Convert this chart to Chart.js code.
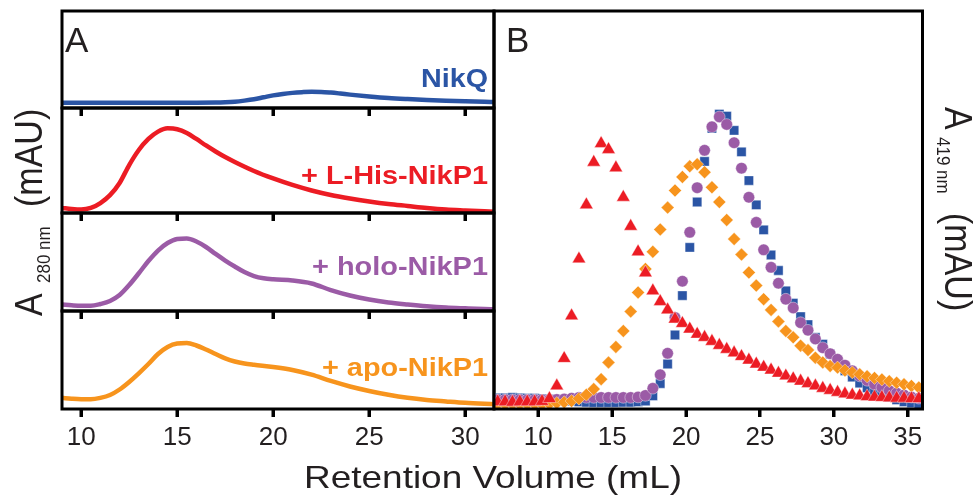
<!DOCTYPE html>
<html>
<head>
<meta charset="utf-8">
<script src="https://cdn.jsdelivr.net/npm/chart.js@4"></script>
<style>
  html, body { margin: 0; padding: 0; background: #fff; }
  #figure { position: relative; width: 977px; height: 497px; background: #fff; }
  #figure canvas { position: absolute; left: 0; top: 0; }
</style>
</head>
<body>
<div id="figure">
  <canvas id="traceNikQ" width="977" height="497"></canvas>
  <canvas id="traceLHis" width="977" height="497"></canvas>
  <canvas id="traceHolo" width="977" height="497"></canvas>
  <canvas id="traceApo" width="977" height="497"></canvas>
  <canvas id="fractions" width="977" height="497"></canvas>
</div>
<script>
// Panel A: A280 traces (retention volume in mL, absorbance in arbitrary mAU)
const volNikQ = [9, 10, 11, 12, 13, 14, 15, 16, 17, 17.5, 18, 18.5, 19, 19.5, 20, 20.5, 21, 21.5, 22, 22.5, 23, 23.5, 24, 25, 26, 27, 28, 29, 30, 31, 31.5];
const a280NikQ = [5.5, 5.5, 5.5, 5.5, 5.5, 5.5, 5.5, 5.5, 5.6, 5.9, 6.5, 7.6, 9.0, 11.0, 13.0, 14.5, 15.6, 16.3, 16.7, 16.6, 15.9, 14.9, 13.8, 11.9, 10.3, 9.2, 8.3, 7.5, 6.9, 6.4, 6.2];

const volLHis = [9, 9.5, 10, 10.5, 11, 11.5, 12, 12.5, 13, 13.5, 14, 14.5, 15, 15.5, 16, 16.5, 17, 17.5, 18, 19, 20, 21, 22, 23, 24, 25, 26, 27, 28, 29, 30, 31, 31.5];
const a280LHis = [4.8, 3.8, 3.3, 4.8, 9.5, 17.0, 28.6, 45.7, 60.0, 70.5, 77.5, 80.6, 79.8, 76.2, 70.5, 64.3, 58.6, 53.3, 48.6, 40.0, 32.9, 26.7, 21.4, 17.1, 13.8, 11.0, 8.6, 6.7, 4.8, 3.3, 2.4, 1.6, 1.2];

const volHolo = [9, 9.5, 10, 10.5, 11, 11.5, 12, 12.5, 13, 13.5, 14, 14.5, 15, 15.5, 16, 16.5, 17, 17.5, 18, 18.5, 19, 19.5, 20, 21, 22, 23, 24, 25, 26, 27, 28, 29, 30, 31, 31.5];
const a280Holo = [6.6, 5.8, 5.3, 5.3, 7.1, 10.2, 16.3, 26.5, 38.5, 51.0, 61.7, 69.4, 73.5, 74.0, 70.9, 65.3, 58.2, 51.5, 45.4, 39.8, 35.7, 33.4, 32.3, 31.1, 28.1, 21.4, 15.8, 11.7, 8.7, 6.6, 4.8, 3.5, 2.7, 2.0, 1.8];

const volApo = [9, 9.5, 10, 10.5, 11, 11.5, 12, 12.5, 13, 13.5, 14, 14.5, 15, 15.5, 16, 16.5, 17, 17.5, 18, 18.5, 19, 20, 21, 22, 23, 24, 25, 26, 27, 28, 29, 30, 31, 31.5];
const a280Apo = [11.4, 10.5, 10.0, 10.0, 11.4, 14.3, 19.9, 27.6, 36.4, 45.9, 56.1, 63.3, 66.8, 67.3, 64.8, 60.7, 56.1, 51.7, 48.5, 46.4, 45.1, 42.9, 39.8, 35.0, 28.6, 23.0, 18.4, 14.5, 11.4, 9.2, 7.7, 6.3, 5.3, 4.9];

// Panel B: A419 of collected fractions
const fractionVol = [
  7.25, 7.75, 8.25, 8.75, 9.25, 9.75, 10.25, 10.75, 11.25, 11.75,
  12.25, 12.75, 13.25, 13.75, 14.25, 14.75, 15.25, 15.75, 16.25, 16.75,
  17.25, 17.75, 18.25, 18.75, 19.25, 19.75, 20.25, 20.75, 21.25, 21.75,
  22.25, 22.75, 23.25, 23.75, 24.25, 24.75, 25.25, 25.75, 26.25, 26.75,
  27.25, 27.75, 28.25, 28.75, 29.25, 29.75, 30.25, 30.75, 31.25, 31.75,
  32.25, 32.75, 33.25, 33.75, 34.25, 34.75, 35.25, 35.75
];
const a419NikQ = [
  2.8, 2.8, 2.9, 2.8, 2.7, 2.7, 2.6, 2.5, 2.4, 2.2,
  2.0, 1.8, 1.7, 1.6, 1.6, 1.6, 1.6, 1.7, 1.7, 1.8,
  2.0, 3.3, 6.4, 11.3, 18.6, 28.5, 40.6, 52.0, 62.2, 70.5,
  74.1, 73.6, 70.0, 64.6, 57.4, 51.3, 45.0, 38.7, 34.8, 29.7,
  26.6, 23.2, 21.2, 18.0, 16.3, 13.8, 11.8, 9.6, 8.0, 6.5,
  5.3, 4.3, 3.6, 2.9, 2.3, 1.8, 1.5, 1.3
];
const a419LHis = [
  1.8, 1.8, 1.7, 1.8, 1.8, 1.8, 1.9, 2.6, 5.8, 12.7,
  23.4, 37.7, 51.3, 62.0, 66.7, 65.2, 60.6, 53.2, 45.9, 39.5,
  34.2, 29.7, 27.0, 24.9, 22.6, 21.5, 20.1, 18.8, 18.0, 17.0,
  16.0, 15.0, 14.1, 13.2, 12.3, 11.3, 10.5, 9.8, 9.0, 8.3,
  7.6, 7.0, 6.4, 5.8, 5.2, 4.7, 4.2, 3.8, 3.5, 3.3,
  3.1, 3.0, 2.9, 2.8, 2.7, 2.7, 2.6, 2.6
];
const a419Holo = [
  2.3, 2.3, 2.3, 2.3, 2.3, 2.3, 2.3, 2.4, 2.4, 2.5,
  2.7, 2.9, 2.9, 2.9, 2.9, 2.9, 2.9, 2.9, 2.9, 3.0,
  3.4, 5.2, 8.6, 14.0, 23.0, 32.1, 44.4, 55.6, 65.0, 70.9,
  73.4, 71.5, 66.9, 60.5, 53.2, 46.9, 40.0, 35.6, 31.6, 27.6,
  25.4, 21.7, 19.8, 17.6, 15.4, 13.9, 12.5, 11.0, 9.6, 8.3,
  7.2, 6.2, 5.4, 4.6, 4.0, 3.5, 3.0, 2.7
];
const a419Apo = [
  1.2, 1.2, 1.2, 1.2, 1.2, 1.2, 1.2, 1.3, 1.5, 1.7,
  2.0, 2.6, 3.6, 5.0, 7.5, 11.7, 15.6, 19.6, 24.5, 29.3,
  35.2, 39.5, 45.1, 50.6, 54.9, 58.3, 61.0, 61.5, 59.5, 55.7,
  52.0, 47.5, 42.7, 38.8, 34.3, 31.0, 27.6, 24.9, 22.0, 19.6,
  18.0, 15.9, 14.8, 12.9, 11.7, 10.8, 10.4, 9.7, 9.2, 8.7,
  8.2, 7.8, 7.4, 7.0, 6.6, 6.2, 5.8, 5.4
];

const xTicksA = [10, 15, 20, 25, 30];
const xTicksB = [10, 15, 20, 25, 30, 35];

const BLUE = "#2b55a5";
const RED = "#ec1c24";
const PURPLE = "#9b5ba6";
const ORANGE = "#f7941d";
const INK = "#231f20";
const FONT = '"Liberation Sans", Arial, sans-serif';

const W = 977;
const H = 497;
const TICK_LEN = 8;

// black box around each plot area
const framePlugin = {
  id: "frame",
  afterDraw(chart) {
    const { ctx, chartArea: a } = chart;
    ctx.save();
    ctx.strokeStyle = "#000";
    ctx.lineWidth = 3;
    ctx.strokeRect(a.left, a.top, a.right - a.left, a.bottom - a.top);
    ctx.restore();
  },
};

// short outward ticks under each plot, at the scale's own tick positions
const tickMarkPlugin = {
  id: "tickMarks",
  afterDraw(chart) {
    const { ctx, chartArea: a } = chart;
    const xs = chart.scales.x;
    ctx.save();
    ctx.fillStyle = "#000";
    for (const t of xs.ticks) {
      const px = Math.round(xs.getPixelForValue(t.value));
      ctx.fillRect(px - 1.5, a.bottom, 3, TICK_LEN);
    }
    ctx.restore();
  },
};

function xAxis(min, max, tickValues, showLabels, axisH) {
  return {
    type: "linear",
    min: min,
    max: max,
    afterFit: (scale) => {
      scale.height = axisH;
    },
    afterBuildTicks: (scale) => {
      scale.ticks = tickValues.map((v) => ({ value: v }));
    },
    grid: {
      display: true,
      drawOnChartArea: false,
      drawTicks: true,
      tickLength: TICK_LEN,
      tickColor: "#000",
      tickWidth: 3,
    },
    border: { display: false },
    ticks: {
      display: showLabels,
      color: INK,
      padding: 5,
      font: { family: FONT, size: 26 },
    },
  };
}

function traceChart(id, vol, values, color, area, showLabels) {
  const axisH = showLabels ? 40 : 10;
  return new Chart(document.getElementById(id), {
    type: "line",
    data: {
      datasets: [
        {
          data: vol.map((v, i) => ({ x: v, y: values[i] })),
          borderColor: color,
          borderWidth: 4.5,
          pointRadius: 0,
          cubicInterpolationMode: "monotone",
          fill: false,
        },
      ],
    },
    options: {
      responsive: false,
      animation: false,
      devicePixelRatio: 1,
      layout: {
        padding: {
          left: area.left,
          right: W - area.right,
          top: area.top,
          bottom: H - area.bottom - axisH,
        },
      },
      plugins: { legend: { display: false }, tooltip: { enabled: false } },
      scales: {
        x: xAxis(9, 31.5, xTicksA, showLabels, axisH),
        y: { display: false, min: 0, max: 100 },
      },
    },
    plugins: [framePlugin, tickMarkPlugin],
  });
}

function drawStretched(ctx, str, x, y, font, width, align) {
  ctx.save();
  ctx.font = font;
  const sx = width ? width / ctx.measureText(str).width : 1;
  ctx.translate(x, y);
  ctx.scale(sx, 1);
  ctx.textAlign = align || "left";
  ctx.fillText(str, 0, 0);
  ctx.restore();
}

// "A<sub>nnn nm</sub> (mAU)" running vertically
function drawAbsLabel(ctx, x, y, angle, sub, subAt, unitAt) {
  ctx.save();
  ctx.fillStyle = INK;
  ctx.translate(x, y);
  ctx.scale(1.12, 1);
  ctx.rotate(angle);
  ctx.font = "34px " + FONT;
  ctx.fillText("A", 0, 0);
  ctx.fillText("(mAU)", unitAt, 0);
  ctx.font = "17px " + FONT;
  ctx.fillText(sub, subAt, 7);
  ctx.restore();
}

const textPlugin = {
  id: "figureText",
  afterDraw(chart) {
    const ctx = chart.ctx;
    ctx.save();
    ctx.textBaseline = "alphabetic";
    ctx.fillStyle = INK;
    drawStretched(ctx, "A", 65, 52, "35px " + FONT, 0);
    drawStretched(ctx, "B", 506, 52, "35px " + FONT, 0);
    drawStretched(ctx, "Retention Volume (mL)", 304, 488, "32px " + FONT, 378);

    const bold = "bold 26px " + FONT;
    ctx.fillStyle = BLUE;
    drawStretched(ctx, "NikQ", 488, 87, bold, 67, "right");
    ctx.fillStyle = RED;
    drawStretched(ctx, "+ L-His-NikP1", 488, 184, bold, 187, "right");
    ctx.fillStyle = PURPLE;
    drawStretched(ctx, "+ holo-NikP1", 488, 275, bold, 176, "right");
    ctx.fillStyle = ORANGE;
    drawStretched(ctx, "+ apo-NikP1", 488, 376, bold, 166, "right");

    drawAbsLabel(ctx, 42, 316, -Math.PI / 2, "280 nm", 33, 109);
    drawAbsLabel(ctx, 945, 107, Math.PI / 2, "419 nm", 30, 106);
    ctx.restore();
  },
};

function fractionSet(values, color, style, radius) {
  return {
    data: fractionVol.map((v, i) => ({ x: v, y: values[i] })),
    backgroundColor: color,
    borderColor: "rgba(255,255,255,0.8)",
    borderWidth: 0.5,
    pointStyle: style,
    pointRadius: radius,
  };
}

function render_fractions() {
  const area = { left: 494, right: 922.5, top: 11, bottom: 409 };
  const axisH = 40;
  return new Chart(document.getElementById("fractions"), {
    type: "scatter",
    data: {
      // first dataset ends up on top
      datasets: [
        fractionSet(a419LHis, RED, "triangle", 7.8),
        fractionSet(a419Apo, ORANGE, "rectRot", 6.5),
        fractionSet(a419Holo, PURPLE, "circle", 5.8),
        fractionSet(a419NikQ, BLUE, "rect", 6.6),
      ],
    },
    options: {
      responsive: false,
      animation: false,
      devicePixelRatio: 1,
      layout: {
        padding: {
          left: area.left,
          right: W - area.right,
          top: area.top,
          bottom: H - area.bottom - axisH,
        },
      },
      plugins: { legend: { display: false }, tooltip: { enabled: false } },
      scales: {
        x: xAxis(7, 36, xTicksB, true, axisH),
        y: { display: false, min: 0, max: 100 },
      },
    },
    plugins: [framePlugin, tickMarkPlugin, textPlugin],
  });
}

traceChart("traceNikQ", volNikQ, a280NikQ, BLUE, { left: 62, right: 494, top: 11, bottom: 108 }, false);
traceChart("traceLHis", volLHis, a280LHis, RED, { left: 62, right: 494, top: 108, bottom: 213 }, false);
traceChart("traceHolo", volHolo, a280Holo, PURPLE, { left: 62, right: 494, top: 213, bottom: 311 }, false);
traceChart("traceApo", volApo, a280Apo, ORANGE, { left: 62, right: 494, top: 311, bottom: 409 }, true);
render_fractions();
</script>
</body>
</html>
